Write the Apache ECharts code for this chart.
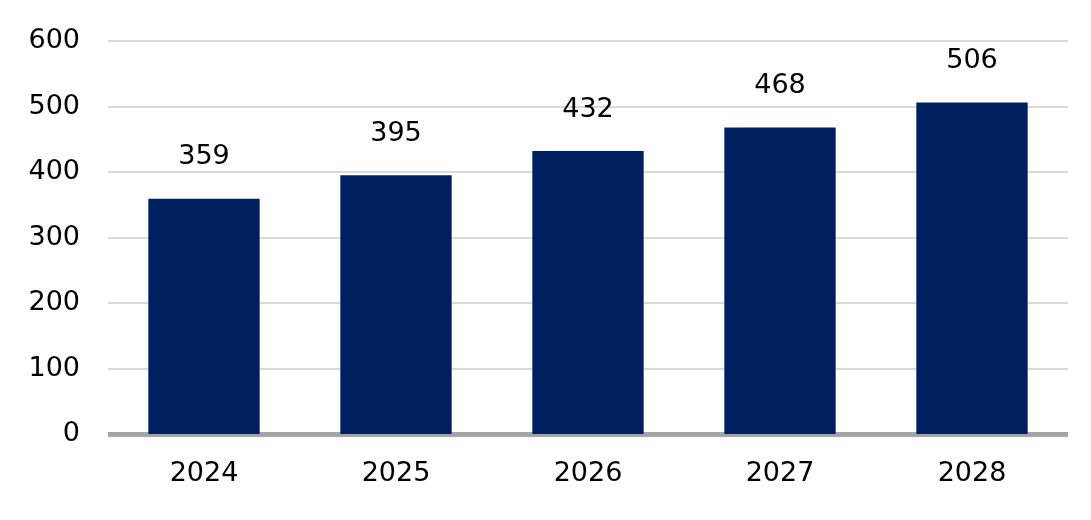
<!DOCTYPE html>
<html>
<head>
<meta charset="utf-8">
<script src="https://cdn.jsdelivr.net/npm/echarts@6/dist/echarts.min.js"></script>
<style>
  html, body { margin: 0; padding: 0; background: #fff; }
  #chart { width: 1091px; height: 520px; }
</style>
</head>
<body>
<div id="chart"></div>
<script>
var years = ['2024', '2025', '2026', '2027', '2028']
var values = [359, 395, 432, 468, 506]
var yTicks = [0, 100, 200, 300, 400, 500, 600]

var chart = echarts.init(document.getElementById('chart'))
var font = 'Verdana, "DejaVu Sans", sans-serif'

var option = {
  animation: false,
  grid: { left: 108, right: 23, top: 41, bottom: 86 },
  xAxis: {
    type: 'category',
    data: years,
    axisTick: { show: false },
    axisLine: { show: true, lineStyle: { color: '#a6a6a6', width: 5, cap: 'butt' } },
    axisLabel: { color: '#000', fontSize: 27, fontFamily: font, margin: 26 }
  },
  yAxis: {
    type: 'value',
    min: yTicks[0],
    max: yTicks[yTicks.length - 1],
    interval: 100,
    axisLine: { show: false },
    axisTick: { show: false },
    splitLine: { lineStyle: { color: '#d9d9d9', width: 2 } },
    axisLabel: { color: '#000', fontSize: 27, fontFamily: font, margin: 28 }
  },
  series: [{
    type: 'bar',
    data: values,
    barWidth: '58%',
    itemStyle: { color: '#002060' },
    label: {
      show: true,
      position: 'top',
      distance: 28,
      color: '#000',
      fontSize: 27,
      fontFamily: font
    }
  }]
}

option && chart.setOption(option)
</script>
</body>
</html>
